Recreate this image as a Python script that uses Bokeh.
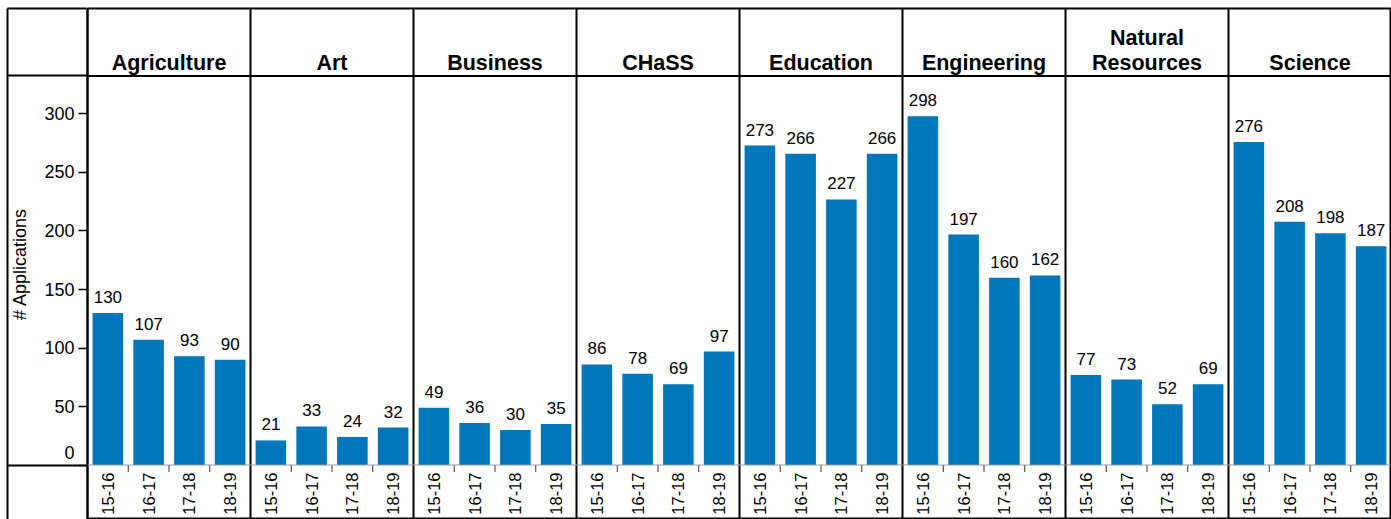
from math import pi
from bokeh.plotting import figure
from bokeh.models import (FactorRange, Range1d, Span, FixedTicker, LinearAxis,
                          ColumnDataSource)
from bokeh.core.properties import value
from bokeh.embed import file_html
from bokeh.resources import INLINE

# ---------------- data ----------------
colleges = ["Agriculture", "Art", "Business", "CHaSS", "Education",
            "Engineering", "Natural Resources", "Science"]
years = ["15-16", "16-17", "17-18", "18-19"]
agriculture = [130, 107, 93, 90]
art = [21, 33, 24, 32]
business = [49, 36, 30, 35]
chass = [86, 78, 69, 97]
education = [273, 266, 227, 266]
engineering = [298, 197, 160, 162]
natural_resources = [77, 73, 52, 69]
science = [276, 208, 198, 187]
series = [agriculture, art, business, chass, education, engineering,
          natural_resources, science]
header_lines = {"Natural Resources": ["Natural", "Resources"]}
y_ticks = [0, 50, 100, 150, 200, 250, 300]

# ---------------- layout constants ----------------
W, H = 1391, 519
TOP = 8
LEFT = 87
Y0, Y1 = -46.58, 390.17       # frame height in value units
HEADER_Y = 332.5              # header/plot boundary
TICK_LEN = 6.0
BLUE = "#0077bb"
FONT = "Liberation Sans"

factors = [(c, y) for c in colleges for y in years]
vals = [v for s in series for v in s]
src = ColumnDataSource(dict(x=factors, top=vals, label=[str(v) for v in vals]))

xr = FactorRange(*factors, range_padding=0, factor_padding=0,
                 group_padding=0, subgroup_padding=0)
p = figure(width=W, height=H, x_range=xr, y_range=Range1d(Y0, Y1),
           output_backend="svg", toolbar_location=None, x_axis_location=None,
           min_border_left=LEFT, min_border_right=0, min_border_top=TOP,
           min_border_bottom=0)
p.grid.visible = False
p.outline_line_color = "black"
p.outline_line_width = 2
p.outline_line_alpha = 1
p.background_fill_color = "white"
p.border_fill_color = "white"

# y axis
ya = p.yaxis[0]
ya.ticker = FixedTicker(ticks=y_ticks)
ya.major_label_overrides = {0: "0\n "}
ya.axis_line_color = "black"
ya.axis_line_width = 2
ya.major_tick_out = 9
ya.major_tick_in = 0
ya.major_tick_line_width = 1.5
ya.major_tick_line_color = "black"
ya.minor_tick_out = 0
ya.minor_tick_in = 0
ya.major_label_standoff = 4
ya.major_label_text_font = FONT
ya.major_label_text_font_size = "18px"
ya.major_label_text_color = "black"
ya.axis_label = "# Applications"
ya.axis_label_text_font = FONT
ya.axis_label_text_font_size = "18px"
ya.axis_label_text_font_style = "normal"
ya.axis_label_text_color = "black"
ya.axis_label_standoff = 11

# outer left border of the table; its inward minor ticks draw the row lines
border_axis = LinearAxis(ticker=FixedTicker(ticks=[], minor_ticks=[0, HEADER_Y, Y1]),
                         axis_line_color="black", axis_line_width=2,
                         major_tick_out=0, major_tick_in=0,
                         minor_tick_out=0, minor_tick_in=LEFT - 8,
                         minor_tick_line_color="black", minor_tick_line_width=2,
                         major_label_standoff=0,
                         major_label_text_font_size="0px")
p.add_layout(border_axis, "left")

# bars
p.vbar(x="x", top="top", bottom=0, width=0.75, source=src,
       fill_color=BLUE, line_color=None)
p.text(x="x", y="top", text="label", source=src, text_align="center",
       text_baseline="alphabetic", y_offset=-16, text_font=value(FONT),
       text_font_size="17px", text_color="black")

# year labels (rotated) + small separators below the baseline
p.text(x=factors, y=[0] * len(factors), text=[f[1] for f in factors],
       angle=pi / 2, text_align="right", text_baseline="middle", y_offset=7.5,
       text_font=value(FONT), text_font_size="16.5px", text_color="black")
sep_x = [(c, y, 0.5) for c in colleges for y in years[:-1]]
p.segment(x0=sep_x, x1=sep_x, y0=[0] * len(sep_x), y1=[-TICK_LEN] * len(sep_x),
          line_color="#333333", line_width=1)

# baseline and header line
p.add_layout(Span(location=0, dimension="width", line_color="#9a9a9a",
                  line_width=1))
p.add_layout(Span(location=HEADER_Y, dimension="width", line_color="black",
                  line_width=2))

# panel dividers
div_x = [(c, years[0], -0.5) for c in colleges[1:]]
p.segment(x0=div_x, x1=div_x, y0=[Y0] * len(div_x), y1=[Y1] * len(div_x),
          line_color="black", line_width=2)

# header texts
hx, ht, ho = [], [], []
for c in colleges:
    lines = header_lines.get(c, [c])
    n = len(lines)
    for i, t in enumerate(lines):
        hx.append(c)
        ht.append(t)
        ho.append(-13 - 25 * (n - 1 - i))
p.text(x=hx, y=[HEADER_Y] * len(hx), text=ht, y_offset=ho, text_align="center",
       text_baseline="alphabetic", text_font=value(FONT),
       text_font_size="21.5px", text_font_style="bold", text_color="black")

open("out.html", "w").write(file_html(p, INLINE))
